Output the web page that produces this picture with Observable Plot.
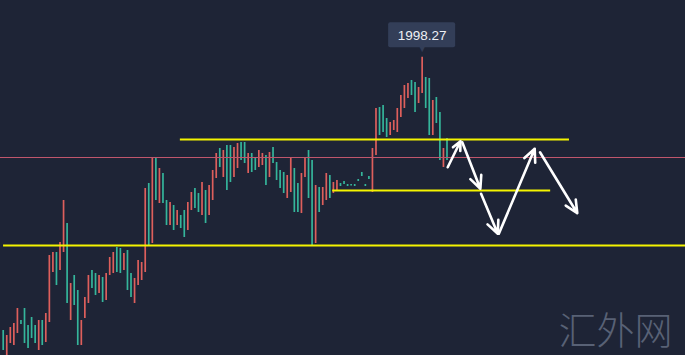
<!DOCTYPE html>
<html>
<head>
<meta charset="utf-8">
<script src="https://cdn.jsdelivr.net/npm/d3@7"></script>
<script src="https://cdn.jsdelivr.net/npm/@observablehq/plot@0.6"></script>
<style>
  html, body { margin: 0; padding: 0; background: #1e2436; }
  #chart svg { display: block; }
</style>
</head>
<body>
<div id="chart"></div>
<script>
// Candle highs / lows (price), index = bar number
const highs = [
  1889,1887,1890.2,1891.8,1897.8,1893,1897.8,1891,1894.2,1891,
  1893,1893,1895.8,1919,1920.2,1920.2,1924.2,1941,1931.8,1907.8,
  1911,1905,1893,1902.2,1911,1913,1911.8,1911,1910.2,1911.8,
  1918.2,1920.2,1922.2,1921.8,1919.8,1921,1911.8,1909.8,1917,1916.2,
  1945.8,1947.8,1958.2,1957.8,1953.8,1951.8,1941,1940.2,1939,1937,
  1935,1937,1940.2,1944.2,1945.8,1943.8,1948.2,1945,1947,1953,
  1959.8,1961.8,1961,1963,1963,1962.2,1963.8,1964.2,1964.2,1959.8,
  1959.8,1957.8,1961,1959.8,1959,1960.2,1962.2,1956.2,1953,1952.2,
  1951,1958.2,1953.8,1947.8,1951.8,1958.2,1961,1957,1947,1946.2,
  1946.2,1951.8,1951,1948.2,1949,1947.8,1948.6,1947.4,1947.4,1947.4,
  1949.4,1952.2,1947.4,1950.6,1961.8,1977.8,1978.2,1979,1973.8,1972.2,
  1973,1977.8,1983,1987,1987.8,1989,1988.2,1986.2,1998.27,1990.2,
  1989.8,1981,1982.2,1976.2,1961.8,1965.8
];
const lows = [
  1881,1879,1883.8,1883,1887.8,1891.4,1883.8,1881.8,1885.8,1883.8,
  1881,1883,1884.2,1892.2,1912.2,1907,1913,1920.2,1899.8,1893,
  1899,1883,1883,1893.8,1899.8,1905.8,1903,1903.8,1900.2,1901,
  1911,1911.8,1912.2,1911.8,1913,1905,1902.2,1899.8,1907,1909,
  1912.2,1923,1923.8,1941,1939.8,1939.8,1931,1931,1929,1931,
  1929.8,1926.2,1929,1937,1937.8,1936.2,1935,1931.8,1935,1941,
  1949.8,1954.2,1950.2,1945,1948.2,1950.2,1953.8,1957,1955.8,1951.8,
  1952.2,1953,1954.2,1955,1947,1950.2,1955.8,1949,1945.8,1943.8,
  1941.8,1944.2,1936.2,1936.2,1935.8,1950.2,1941.8,1923,1923.8,1936.2,
  1939,1941,1941.8,1943.8,1945,1946.6,1947.4,1946.6,1946.8,1946.6,
  1948.6,1950.6,1946.6,1949.4,1944.2,1959,1967,1968.2,1966.2,1967,
  1969,1968.2,1974.2,1977.8,1981.8,1983,1976.2,1979.8,1983.8,1977.8,
  1967,1967,1971.8,1957,1954.2,1957
];
// 1 = up (red), -1 = down (teal)
const dirs = [
  -1,1,1,1,1,-1,-1,-1,-1,-1,
  1,-1,1,1,1,-1,1,1,-1,1,
  -1,-1,1,1,1,-1,-1,1,-1,1,
  1,1,-1,-1,1,-1,-1,1,1,1,
  1,-1,1,-1,1,-1,-1,1,-1,1,
  -1,-1,1,1,-1,-1,1,-1,1,1,
  1,-1,1,-1,-1,1,1,-1,-1,1,
  -1,-1,1,1,-1,1,-1,-1,-1,-1,
  1,1,-1,-1,1,1,-1,-1,1,-1,
  1,1,-1,1,1,-1,-1,-1,-1,-1,
  -1,-1,-1,-1,1,1,-1,-1,-1,1,
  1,1,1,1,1,-1,-1,1,1,-1,
  -1,1,-1,-1,1,-1
];

// Support / resistance levels (yellow)
const levelPrices = [1965.4, 1945, 1923];
const levelStarts = [49.9, 92.8, 0.1];
const levelEnds   = [159.5, 154.2, 192.2];

// Current price line (red)
const lastPrice = 1958.2;
const lineSpan = [-1, 193];

// Forecast arrows (bar index, price)
const arrowX1 = [125.2, 129.3, 134.6, 139.6, 151.2];
const arrowY1 = [1954.3, 1964.3, 1943.7, 1927.7, 1960.3];
const arrowX2 = [128.8, 134.4, 139.3, 149.7, 161.7];
const arrowY2 = [1964.7, 1945.7, 1927.7, 1961.7, 1935.9];

const peakLabel = "1998.27";
const watermark = "汇外网";

const candles = highs.map((h, i) => ({i, high: h, low: lows[i], dir: dirs[i]}));
const levels = levelPrices.map((p, k) => ({p, x1: levelStarts[k], x2: levelEnds[k]}));
const priceLine = [{p: lastPrice, x1: lineSpan[0], x2: lineSpan[1]}];
const arrows = arrowX1.map((x, k) => ({x1: x, y1: arrowY1[k], x2: arrowX2[k], y2: arrowY2[k]}));
const peakIdx = highs.indexOf(d3.max(highs));
const peak = [{i: peakIdx, p: highs[peakIdx], t: peakLabel}];

const RED = "#de5f5c";
const TEAL = "#35b59b";
const BOX = "#333e58";

const chart = Plot.plot({
  width: 685,
  height: 355,
  margin: 0,
  style: {background: "#1e2436"},
  x: {domain: [0, 125], range: [2.7, 446.5], axis: null},
  y: {domain: [1879, 2021], range: [355, 0], axis: null},
  marks: [
    Plot.ruleX(candles.filter(d => d.dir > 0), {x: "i", y1: "low", y2: "high", stroke: RED, strokeWidth: 1.7}),
    Plot.ruleX(candles.filter(d => d.dir < 0), {x: "i", y1: "low", y2: "high", stroke: TEAL, strokeWidth: 1.7}),
    Plot.ruleY(priceLine, {y: "p", x1: "x1", x2: "x2", stroke: "#c0566c", strokeWidth: 1.2, strokeOpacity: 1}),
    Plot.ruleY(levels, {y: "p", x1: "x1", x2: "x2", stroke: "#f4f400", strokeWidth: 2}),
    Plot.arrow(arrows, {x1: "x1", y1: "y1", x2: "x2", y2: "y2", stroke: "white", strokeWidth: 2.6, headLength: 8, headAngle: 50}),
    Plot.rect(peak, {x1: "i", x2: "i", y1: "p", y2: "p", fill: BOX, rx: 2,
      insetLeft: -33.5, insetRight: -33.5, insetTop: -12.5, insetBottom: -12.5, dy: -22}),
    Plot.text(peak, {x: "i", y: "p", text: () => "▼", fill: BOX, fontSize: 9, dy: -8}),
    Plot.text(peak, {x: "i", y: "p", text: "t", fill: "#eef0f5", fontSize: 13.5, dy: -22,
      fontFamily: "Liberation Sans, Arial, sans-serif"}),
    Plot.text([watermark], {text: d => d, frameAnchor: "bottom-right", dx: -13, dy: -12,
      fill: "#586175", fontSize: 38, fontWeight: 300, fontFamily: "Noto Sans CJK SC, sans-serif"})
  ]
});
document.getElementById("chart").appendChild(chart);
</script>
</body>
</html>
